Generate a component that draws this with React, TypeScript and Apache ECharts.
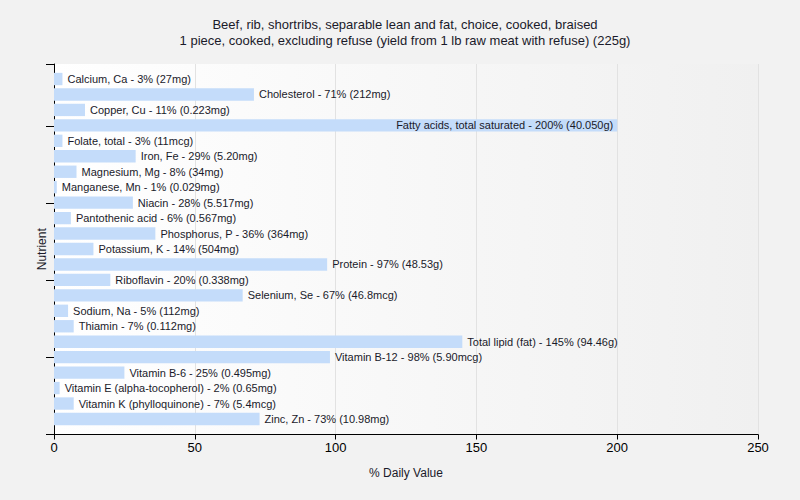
import React, { useEffect, useRef } from "react";
import * as echarts from "echarts";

const titleLines = [
  "Beef, rib, shortribs, separable lean and fat, choice, cooked, braised",
  "1 piece, cooked, excluding refuse (yield from 1 lb raw meat with refuse) (225g)",
];

const nutrients = [
  "Calcium, Ca",
  "Cholesterol",
  "Copper, Cu",
  "Fatty acids, total saturated",
  "Folate, total",
  "Iron, Fe",
  "Magnesium, Mg",
  "Manganese, Mn",
  "Niacin",
  "Pantothenic acid",
  "Phosphorus, P",
  "Potassium, K",
  "Protein",
  "Riboflavin",
  "Selenium, Se",
  "Sodium, Na",
  "Thiamin",
  "Total lipid (fat)",
  "Vitamin B-12",
  "Vitamin B-6",
  "Vitamin E (alpha-tocopherol)",
  "Vitamin K (phylloquinone)",
  "Zinc, Zn",
];

const dailyValues = [3, 71, 11, 200, 3, 29, 8, 1, 28, 6, 36, 14, 97, 20, 67, 5, 7, 145, 98, 25, 2, 7, 73];

const amounts = [
  "27mg",
  "212mg",
  "0.223mg",
  "40.050g",
  "11mcg",
  "5.20mg",
  "34mg",
  "0.029mg",
  "5.517mg",
  "0.567mg",
  "364mg",
  "504mg",
  "48.53g",
  "0.338mg",
  "46.8mcg",
  "112mg",
  "0.112mg",
  "94.46g",
  "5.90mcg",
  "0.495mg",
  "0.65mg",
  "5.4mcg",
  "10.98mg",
];

const xTicks = { min: 0, max: 250, interval: 50 };
const insideLabelNames = ["Fatty acids, total saturated"];

const FONT = "'Liberation Sans', Arial, sans-serif";

export default function App() {
  const ref = useRef<HTMLDivElement>(null);

  useEffect(() => {
    document.body.style.margin = "0";
    const chart = echarts.init(ref.current!, undefined, { renderer: "svg" });
    const data = nutrients.map((n, i) => {
      const item: any = { value: dailyValues[i], name: n };
      if (insideLabelNames.includes(n)) {
        item.label = { position: "insideRight", distance: 4 };
      }
      return item;
    });
    chart.setOption({
      animation: false,
      backgroundColor: "#f2f2f2",
      title: {
        text: titleLines.join("\n"),
        left: 400,
        textAlign: "center",
        top: 11,
        textStyle: {
          fontFamily: FONT,
          fontSize: 13,
          fontWeight: "normal",
          color: "#1a1a2a",
          lineHeight: 16,
        },
      },
      grid: [
        {
          left: 54,
          right: 42,
          top: 64,
          bottom: 65.5,
          show: true,
          borderWidth: 0,
          backgroundColor: new echarts.graphic.LinearGradient(0, 0, 1, 0, [
            { offset: 0, color: "#ffffff" },
            { offset: 1, color: "#f0f0f0" },
          ]),
        },
        {
          left: 54,
          right: 42,
          top: 71.3,
          bottom: 73.3,
          show: false,
        },
      ],
      xAxis: [
        {
          type: "value",
          gridIndex: 0,
          min: xTicks.min,
          max: xTicks.max,
          interval: xTicks.interval,
          name: "% Daily Value",
          nameLocation: "middle",
          nameGap: 32,
          nameTextStyle: { fontFamily: FONT, fontSize: 12, color: "#1a1a2a" },
          axisLine: { show: true, lineStyle: { color: "#000", width: 1 } },
          axisTick: { show: true, length: 5, lineStyle: { color: "#000" } },
          axisLabel: { fontFamily: FONT, fontSize: 13, color: "#000", margin: 6 },
          splitLine: { show: true, lineStyle: { color: "#e2e2e2", width: 1 } },
        },
        {
          type: "value",
          gridIndex: 1,
          min: xTicks.min,
          max: xTicks.max,
          interval: xTicks.interval,
          show: false,
        },
      ],
      yAxis: [
        {
          type: "value",
          gridIndex: 0,
          min: 0,
          max: 4.8,
          interval: 1,
          position: "left",
          name: "Nutrient",
          nameLocation: "middle",
          nameGap: 6,
          nameRotate: 90,
          nameTextStyle: { fontFamily: FONT, fontSize: 12, color: "#1a1a2a" },
          axisLine: { show: true, onZero: false, lineStyle: { color: "#000", width: 1 } },
          axisTick: { show: true, length: 8, lineStyle: { color: "#000" } },
          axisLabel: { show: false },
          splitLine: { show: false },
        },
        {
          type: "category",
          gridIndex: 1,
          inverse: true,
          data: nutrients,
          axisLine: { show: false },
          axisTick: { show: false },
          axisLabel: { show: false },
          splitLine: { show: false },
        },
      ],
      series: [
        {
          type: "bar",
          xAxisIndex: 1,
          yAxisIndex: 1,
          data,
          barCategoryGap: "20%",
          itemStyle: { color: "#c4dcfa" },
          label: {
            show: true,
            position: "right",
            distance: 5,
            fontFamily: FONT,
            fontSize: 11,
            color: "#1a1a2a",
            formatter: (p: any) =>
              `${p.name} - ${dailyValues[p.dataIndex]}% (${amounts[p.dataIndex]})`,
          },
        },
      ],
    });
    return () => chart.dispose();
  }, []);

  return <div ref={ref} style={{ width: 800, height: 500 }} />;
}
